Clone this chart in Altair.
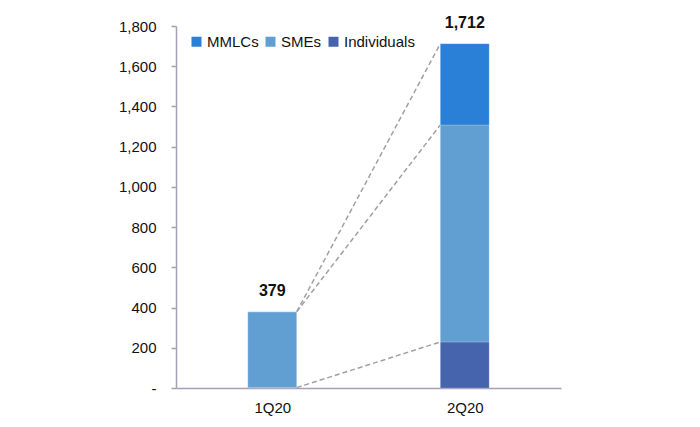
import json
import altair as alt
import pandas as pd

quarters = ["1Q20", "2Q20"]
segments = ["MMLCs", "SMEs", "Individuals"]
individuals = [2, 229]
smes = [377, 1079]
mmlcs = [0, 404]
totals = [379, 1712]
colors = ["#2a7fd7", "#619fd3", "#4664ad"]
y_ticks = [0, 200, 400, 600, 800, 1000, 1200, 1400, 1600, 1800]

# stacked bar table
rows = []
for i, q in enumerate(quarters):
    lo = 0
    for seg, vals in (("Individuals", individuals), ("SMEs", smes), ("MMLCs", mmlcs)):
        v = vals[i]
        rows.append({"quarter": q, "idx": i, "segment": seg, "lo": lo, "hi": lo + v,
                     "order": ["Individuals", "SMEs", "MMLCs"].index(seg)})
        lo += v
bars_df = pd.DataFrame(rows)

tot_df = pd.DataFrame({"quarter": quarters, "idx": [0, 1], "total": totals})

# connector lines between the stacks' boundaries
cum1 = [individuals[0], individuals[0] + smes[0], totals[0]]
cum2 = [individuals[1], individuals[1] + smes[1], totals[1]]
lines_df = pd.DataFrame({"y1": cum1, "y2": cum2})

HALF = 0.127
label_expr = "%s[floor(datum.value)]" % json.dumps(quarters)

x_scale = alt.Scale(domain=[0, 2], nice=False, zero=False)
y_scale = alt.Scale(domain=[0, 1800], nice=False)

base_x_axis = alt.Axis(values=[0.5, 1.5], labelExpr=label_expr, ticks=False, grid=False,
                       domainColor="#a89fb6", domainWidth=1.5, labelFontSize=15,
                       labelColor="#111111", labelPadding=12, labelFont="Liberation Sans",
                       title=None)
y_axis = alt.Axis(values=y_ticks, labelExpr="datum.value == 0 ? '-' : format(datum.value, ',')",
                  ticks=True, tickSize=5, tickColor="#a89fb6", tickWidth=1.5,
                  grid=False, domainColor="#a89fb6", domainWidth=1.5,
                  labelFontSize=15, labelColor="#111111", labelPadding=15,
                  labelFont="Liberation Sans", title=None)

bars = alt.Chart(bars_df).transform_calculate(
    x0=f"datum.idx + 0.5 - {HALF}", x1=f"datum.idx + 0.5 + {HALF}"
).mark_bar(stroke="#ffffff", strokeWidth=0.5, strokeOpacity=0.4).encode(
    x=alt.X("x0:Q", scale=x_scale, axis=base_x_axis),
    x2="x1:Q",
    y=alt.Y("lo:Q", scale=y_scale, axis=y_axis),
    y2="hi:Q",
    color=alt.Color("segment:N", scale=alt.Scale(domain=segments, range=colors),
                    legend=alt.Legend(title=None, orient="none", legendX=13, legendY=8,
                                      direction="horizontal", symbolType="square",
                                      symbolSize=100, symbolStrokeWidth=0,
                                      labelFontSize=15, labelFont="Liberation Sans",
                                      labelColor="#111111", columnPadding=4, labelOffset=3)),
    order="order:Q",
)

lines = alt.Chart(lines_df).transform_calculate(
    xa=f"0.5 + {HALF}", xb=f"1.5 - {HALF}"
).mark_rule(color="#a0a0a0", strokeWidth=1.5, strokeDash=[5, 3]).encode(
    x=alt.X("xa:Q", scale=x_scale),
    x2="xb:Q",
    y=alt.Y("y1:Q", scale=y_scale),
    y2="y2:Q",
)

text = alt.Chart(tot_df).transform_calculate(
    xc="datum.idx + 0.5"
).mark_text(fontWeight="bold", fontSize=16, font="Liberation Sans", dy=-16,
            baseline="alphabetic", color="#111111").encode(
    x=alt.X("xc:Q", scale=x_scale),
    y=alt.Y("total:Q", scale=y_scale),
    text=alt.Text("total:Q", format=","),
)

chart = alt.layer(lines, bars, text).properties(
    width=385, height=362,
    padding={"left": 176, "top": 26, "right": 139, "bottom": 39},
    autosize="none",
    background="#ffffff",
).configure_view(stroke=None)

chart.save("out.html", embed_options={"renderer": "svg", "actions": False})
